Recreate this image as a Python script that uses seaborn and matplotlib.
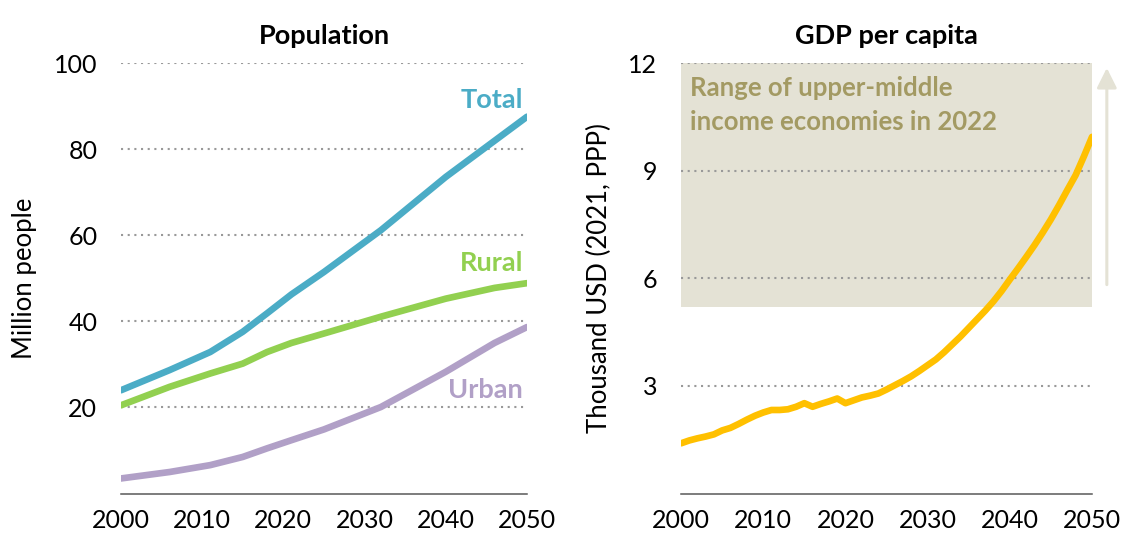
import pandas as pd
import matplotlib.pyplot as plt
import seaborn as sns

# Population (million people)
pop_years = [2000, 2006, 2011, 2015, 2018, 2021, 2025, 2032, 2040, 2046, 2050]
total = [24.0, 28.7, 32.9, 37.6, 41.9, 46.3, 51.5, 61.2, 73.6, 82.0, 87.6]
rural = [20.5, 24.8, 27.9, 30.2, 32.9, 35.0, 37.2, 41.1, 45.3, 47.8, 48.9]
urban = [3.5, 5.0, 6.6, 8.5, 10.5, 12.4, 14.9, 20.1, 28.3, 35.0, 38.7]

# GDP per capita (thousand USD, 2021 PPP)
gdp_years = list(range(2000, 2051))
gdp = [1.40, 1.48, 1.54, 1.59, 1.65, 1.76, 1.83, 1.94, 2.06, 2.17,
       2.26, 2.33, 2.33, 2.35, 2.42, 2.52, 2.42, 2.50, 2.57, 2.65,
       2.52, 2.60, 2.68, 2.73, 2.79, 2.90, 3.02, 3.14, 3.27, 3.42,
       3.58, 3.74, 3.94, 4.16, 4.38, 4.62, 4.86, 5.10, 5.36, 5.65,
       5.97, 6.28, 6.60, 6.93, 7.28, 7.65, 8.05, 8.47, 8.88, 9.40,
       9.95]
band_low, band_high = 5.2, 12

sns.set_style("white")
plt.rcParams['font.family'] = ['Lato', 'DejaVu Sans']
plt.rcParams['text.color'] = 'black'
plt.rcParams['axes.labelcolor'] = 'black'
plt.rcParams['xtick.color'] = 'black'
plt.rcParams['ytick.color'] = 'black'

colors = {"Total": "#4BACC6", "Rural": "#92D050", "Urban": "#B1A0C7"}
gdp_color = "#FFC000"
band_color = "#E4E2D5"
band_text = "#A39A63"
grid_kw = dict(color="#999999", linestyle=(0, (1, 2.2)), linewidth=1.5)

pop = pd.DataFrame({"year": pop_years * 3,
                    "value": total + rural + urban,
                    "series": ["Total"] * 11 + ["Rural"] * 11 + ["Urban"] * 11})
gdp_df = pd.DataFrame({"year": gdp_years, "gdp": gdp})

fig = plt.figure(figsize=(11.22, 5.33), dpi=100)
ax1 = fig.add_axes([0.1078, 0.0741, 0.3619, 0.807])
ax2 = fig.add_axes([0.607, 0.0741, 0.3663, 0.807])

# --- Population
for t in [20, 40, 60, 80, 100]:
    ax1.axhline(t, **grid_kw, zorder=1)
sns.lineplot(data=pop, x="year", y="value", hue="series", palette=colors,
             linewidth=4.8, legend=False, ax=ax1, zorder=3)
ax1.set_ylim(0, 100)
ax1.set_yticks([20, 40, 60, 80, 100])
ax1.set_ylabel("Million people", fontsize=18.5, labelpad=12)
ax1.set_title("Population", fontsize=19.5, fontweight="bold", pad=14)
for name, yv in [("Total", 91.5), ("Rural", 53.6), ("Urban", 24.1)]:
    ax1.text(2049.5, yv, name, color=colors[name], fontsize=19.5,
             fontweight="bold", ha="right", va="center")

# --- GDP per capita
ax2.axhspan(band_low, band_high, color=band_color, zorder=0, lw=0)
for t in [3, 6, 9, 12]:
    ax2.axhline(t, **grid_kw, zorder=1)
sns.lineplot(data=gdp_df, x="year", y="gdp", color=gdp_color,
             linewidth=4.8, ax=ax2, zorder=3)
ax2.set_ylim(0, 12)
ax2.set_yticks([3, 6, 9, 12])
ax2.set_ylabel("Thousand USD (2021, PPP)", fontsize=18.5, labelpad=12)
ax2.set_title("GDP per capita", fontsize=19.5, fontweight="bold", pad=14)
ax2.text(2001.1, 11.65, "Range of upper-middle\nincome economies in 2022",
         color=band_text, fontsize=18.5, fontweight="bold", va="top",
         linespacing=1.5)
ax2.annotate("", xy=(2051.8, 11.95), xytext=(2051.8, 5.75),
             arrowprops=dict(arrowstyle="-|>", color=band_color, lw=2.2,
                             mutation_scale=30),
             annotation_clip=False)

for ax in (ax1, ax2):
    ax.set_xlim(2000, 2050)
    ax.set_xticks([2000, 2010, 2020, 2030, 2040, 2050])
    ax.set_xlabel("")
    ax.tick_params(axis="both", length=0, labelsize=18)
    ax.tick_params(axis="x", pad=11)
    ax.tick_params(axis="y", pad=17)
    for s in ["top", "right", "left"]:
        ax.spines[s].set_visible(False)
    ax.spines["bottom"].set_color("#595959")
    ax.spines["bottom"].set_linewidth(1.1)

fig.savefig("out.png", dpi=100)
